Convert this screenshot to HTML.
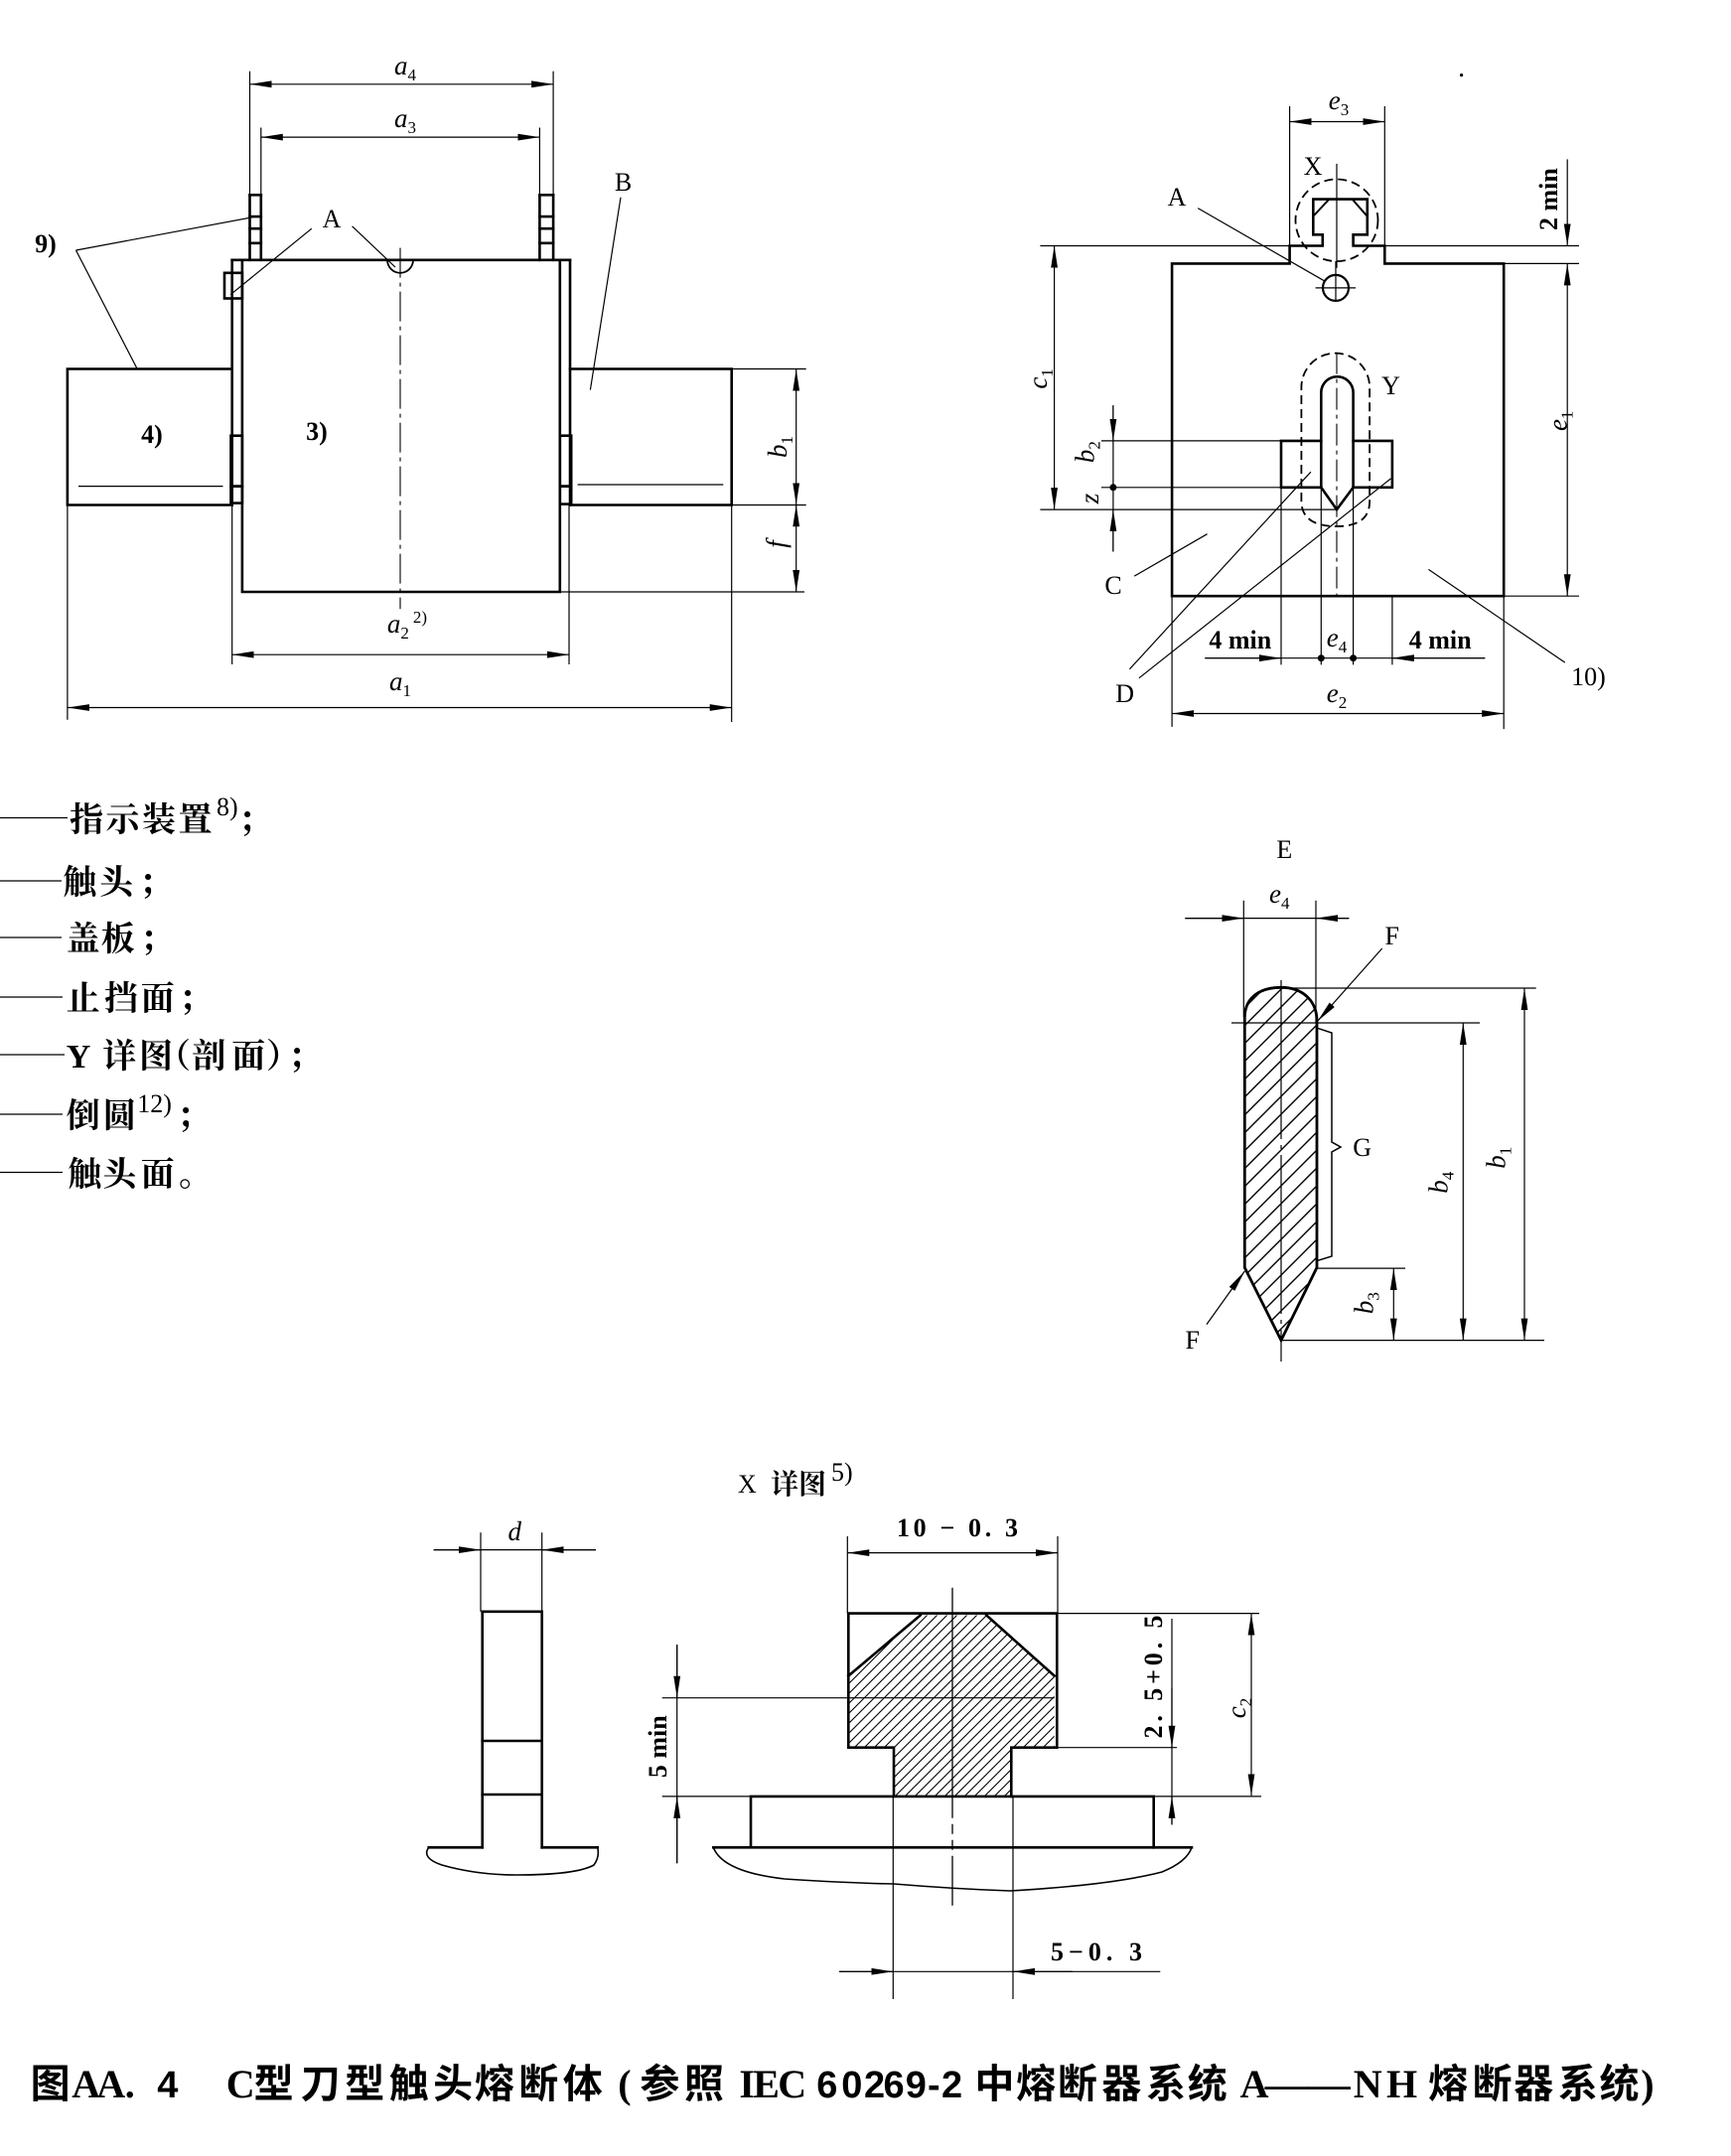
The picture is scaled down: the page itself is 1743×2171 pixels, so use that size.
<!DOCTYPE html>
<html><head><meta charset="utf-8"><style>
html,body{margin:0;padding:0;background:#fff}
svg{display:block}
.k{stroke:#000;stroke-width:2.6;fill:none;stroke-linecap:square}
.t{stroke:#000;stroke-width:1.2;fill:none}
.cl{stroke:#000;stroke-width:1.1;fill:none;stroke-dasharray:30 5 4 5}
.ds{stroke:#000;stroke-width:1.8;fill:none;stroke-dasharray:9 5}
.lb{font-family:"Liberation Serif",serif;font-size:26px;fill:#000}
.dm{font-family:"Liberation Serif",serif;font-style:italic;font-size:27px;fill:#000}
.sb{font-style:normal;font-size:17px}
.bd{font-family:"Liberation Serif",serif;font-weight:bold;font-size:26px;fill:#000}
.lg{font-family:"Liberation Serif","Noto Serif CJK SC",serif;font-size:34px;font-weight:bold;fill:#000}
.cj{font-family:"Noto Sans CJK SC",sans-serif;font-size:40px;font-weight:bold;fill:#000}
.cs{font-family:"Liberation Serif",serif;font-size:40px;font-weight:bold;fill:#000}
.cn{font-family:"Liberation Sans",sans-serif;font-size:38px;font-weight:bold;fill:#000}
</style></head><body>
<svg width="1743" height="2171" viewBox="0 0 1743 2171" xmlns="http://www.w3.org/2000/svg">
<defs>
<marker id="a" viewBox="-22 -4 22 8" refX="0" refY="0" markerWidth="22" markerHeight="8" markerUnits="userSpaceOnUse" orient="auto-start-reverse"><path d="M0,0 L-22,-3.4 L-22,3.4 Z" fill="#000"/></marker>
<pattern id="h1" width="18" height="18" patternUnits="userSpaceOnUse"><path d="M-2,20 L20,-2 M-2,2 L2,-2 M16,20 L20,16" stroke="#000" stroke-width="1.4"/></pattern>
<pattern id="h2" width="10" height="10" patternUnits="userSpaceOnUse"><path d="M-2,12 L12,-2 M-2,2 L2,-2 M8,12 L12,8" stroke="#000" stroke-width="1.1"/></pattern>
</defs>
<rect width="1743" height="2171" fill="#fff"/>

<!-- ================= TOP-LEFT ================= -->
<g class="t">
<line x1="251.5" y1="71.7" x2="251.5" y2="196.3"/>
<line x1="557.1" y1="71.7" x2="557.1" y2="196.3"/>
<line x1="262.8" y1="128.5" x2="262.8" y2="196.3"/>
<line x1="543.4" y1="128.5" x2="543.4" y2="196.3"/>
<line x1="251.5" y1="84.8" x2="557.1" y2="84.8" marker-start="url(#a)" marker-end="url(#a)"/>
<line x1="262.8" y1="138.1" x2="543.4" y2="138.1" marker-start="url(#a)" marker-end="url(#a)"/>
<line x1="79" y1="489.6" x2="224.5" y2="489.6"/>
<line x1="581.6" y1="488" x2="728.3" y2="488"/>
<line x1="736.7" y1="371.5" x2="811.7" y2="371.5"/>
<line x1="736.7" y1="508.5" x2="811.7" y2="508.5"/>
<line x1="563.8" y1="596" x2="810" y2="596"/>
<line x1="67.9" y1="508.5" x2="67.9" y2="724.7"/>
<line x1="736.7" y1="508.5" x2="736.7" y2="727"/>
<line x1="233.7" y1="508.5" x2="233.7" y2="669"/>
<line x1="573" y1="508.5" x2="573" y2="669"/>
<line x1="233.7" y1="659.2" x2="573" y2="659.2" marker-start="url(#a)" marker-end="url(#a)"/>
<line x1="67.9" y1="712.5" x2="736.7" y2="712.5" marker-start="url(#a)" marker-end="url(#a)"/>
<line x1="801.7" y1="371.7" x2="801.7" y2="508.3" marker-start="url(#a)" marker-end="url(#a)"/>
<line x1="801.7" y1="508.3" x2="801.7" y2="596" marker-start="url(#a)" marker-end="url(#a)"/>
<line x1="313.8" y1="230.2" x2="232.1" y2="296.7"/>
<line x1="354.6" y1="227.8" x2="398" y2="269"/>
<line x1="76.5" y1="252" x2="257.7" y2="218.1"/>
<line x1="76.5" y1="252" x2="137.8" y2="370.8"/>
<line x1="625" y1="198.7" x2="594.4" y2="392.6"/>
</g>
<g class="k">
<path d="M262.8,196.3 V261.8 M251.5,196.3 V261.8 M543.4,196.3 V261.8 M557.1,196.3 V261.8"/>
<path d="M251.5,196.3 H262.8 M251.5,218.1 H262.8 M251.5,230.2 H262.8 M251.5,244.8 H262.8"/>
<path d="M543.4,196.3 H557.1 M543.4,218.1 H557.1 M543.4,230.2 H557.1 M543.4,244.8 H557.1"/>
<path d="M233.7,261.8 H574"/>
<path d="M233.7,261.8 V508.5 M574,261.8 V508.5"/>
<path d="M243.9,261.8 V596 H563.8 V261.8"/>
<rect x="226" y="274.8" width="17.9" height="25.7"/>
<rect x="232.5" y="438.7" width="11.4" height="51"/>
<rect x="232.5" y="489.6" width="11.4" height="17"/>
<rect x="563.8" y="438.7" width="11.4" height="51"/>
<rect x="563.8" y="489.6" width="11.4" height="18"/>
<path d="M233.7,371.5 H67.9 V508.5 H233.7"/>
<path d="M574,371.5 H736.7 V508.5 H574"/>
</g>
<path d="M390,261.8 A13,13 0 0 0 416,261.8" stroke="#000" stroke-width="1.8" fill="none"/>
<line class="cl" x1="403" y1="249.6" x2="403" y2="613.2"/>

<text class="dm" x="408" y="75" text-anchor="middle">a<tspan class="sb" dy="6">4</tspan></text>
<text class="dm" x="408" y="128" text-anchor="middle">a<tspan class="sb" dy="6">3</tspan></text>
<text class="dm" x="410" y="637" text-anchor="middle">a<tspan class="sb" dy="6">2</tspan><tspan class="sb" dx="4" dy="-16">2)</tspan></text>
<text class="dm" x="403" y="695" text-anchor="middle">a<tspan class="sb" dy="6">1</tspan></text>
<text class="dm" transform="translate(783,450) rotate(-90)" x="0" y="9" text-anchor="middle">b<tspan class="sb" dy="6">1</tspan></text>
<text class="dm" transform="translate(781.7,548) rotate(-90)" x="0" y="9" text-anchor="middle">f</text>
<text class="lb" x="334" y="229" text-anchor="middle">A</text>
<text class="bd" x="46" y="254" text-anchor="middle">9)</text>
<text class="lb" x="627.6" y="192" text-anchor="middle">B</text>
<text class="bd" x="153" y="446" text-anchor="middle">4)</text>
<text class="bd" x="319" y="443" text-anchor="middle">3)</text>

<!-- ================= TOP-RIGHT ================= -->
<g class="t">
<line x1="1298.6" y1="106.9" x2="1298.6" y2="247.5"/>
<line x1="1394.3" y1="106.9" x2="1394.3" y2="247.5"/>
<line x1="1298.6" y1="122.5" x2="1394.3" y2="122.5" marker-start="url(#a)" marker-end="url(#a)"/>
<line x1="1047.4" y1="247.5" x2="1298.6" y2="247.5"/>
<line x1="1394.3" y1="247.5" x2="1590" y2="247.5"/>
<line x1="1514.2" y1="265.4" x2="1590" y2="265.4"/>
<line x1="1514.2" y1="600.2" x2="1590" y2="600.2"/>
<line x1="1346" y1="164.9" x2="1346" y2="269.8"/>
<line x1="1324.6" y1="289.9" x2="1365" y2="289.9"/>
<line x1="1345" y1="263" x2="1345" y2="303.3"/>
<line x1="1109" y1="443.9" x2="1290" y2="443.9"/>
<line x1="1109" y1="490.8" x2="1290" y2="490.8"/>
<line x1="1047.4" y1="513.1" x2="1346" y2="513.1"/>
<line x1="1290" y1="490.8" x2="1290" y2="669.4"/>
<line x1="1330.3" y1="490.8" x2="1330.3" y2="669.4"/>
<line x1="1362.6" y1="490.8" x2="1362.6" y2="669.4"/>
<line x1="1401.9" y1="600.2" x2="1401.9" y2="669.4"/>
<line x1="1061.6" y1="247.5" x2="1061.6" y2="513.1" marker-start="url(#a)" marker-end="url(#a)"/>
<line x1="1120.9" y1="408.2" x2="1120.9" y2="555.5"/>
<line x1="1120.9" y1="408.2" x2="1120.9" y2="443.9" marker-end="url(#a)"/>
<line x1="1120.9" y1="555.5" x2="1120.9" y2="513.1" marker-end="url(#a)"/>
<line x1="1578.2" y1="265.4" x2="1578.2" y2="600.2" marker-start="url(#a)" marker-end="url(#a)"/>
<line x1="1578.2" y1="160.4" x2="1578.2" y2="247.5" marker-end="url(#a)"/>
<line x1="1180.1" y1="600.2" x2="1180.1" y2="731.9"/>
<line x1="1514.2" y1="600.2" x2="1514.2" y2="734.1"/>
<line x1="1180.1" y1="718.5" x2="1514.2" y2="718.5" marker-start="url(#a)" marker-end="url(#a)"/>
<line x1="1213.3" y1="662.7" x2="1495.3" y2="662.7"/>
<line x1="1213.3" y1="662.7" x2="1290" y2="662.7" marker-end="url(#a)"/>
<line x1="1495.3" y1="662.7" x2="1401.9" y2="662.7" marker-end="url(#a)"/>
<line x1="1206.2" y1="209.6" x2="1334.1" y2="283.2"/>
<line x1="1142.2" y1="580.1" x2="1215.6" y2="537.7"/>
<line x1="1137.4" y1="673.8" x2="1319.9" y2="475.2"/>
<line x1="1146.9" y1="682.8" x2="1400.5" y2="481.9"/>
<line x1="1575.8" y1="667.1" x2="1438.4" y2="573.4"/>
</g>
<path class="k" d="M1180.1,265.4 H1298.6 V247.5 H1331.8 V236.3 H1322.3 V200.6 H1376.8 V236.3 H1362.6 V247.5 H1394.3 V265.4 H1514.2 V600.2 H1180.1 Z"/>
<path d="M1323,217 L1338,201 M1362,201 L1376,217" stroke="#000" stroke-width="2" fill="none"/>
<circle cx="1345" cy="289.9" r="13" stroke="#000" stroke-width="2.2" fill="none"/>
<ellipse class="ds" cx="1346" cy="221.8" rx="41.5" ry="41.3"/>
<path class="k" d="M1330.3,490.8 V395.4 A16.15,16.15 0 0 1 1362.6,395.4 V490.8 M1330.3,490.8 L1346,513.1 L1362.6,490.8"/>
<path class="k" d="M1330.3,443.9 H1290 V490.8 H1330.3 M1362.6,443.9 H1401.9 V490.8 H1362.6"/>
<path class="ds" d="M1310.4,505 V390 A34.35,34.35 0 0 1 1379.1,390 V505 Q1379,530 1346,530 Q1311,530 1310.4,505"/>
<line x1="1346" y1="354.6" x2="1346" y2="600.2" stroke="#000" stroke-width="1.1" stroke-dasharray="22 5 4 5"/>
<circle cx="1120.9" cy="490.8" r="3.5" fill="#000"/>
<circle cx="1330.3" cy="662.7" r="3.5" fill="#000"/>
<circle cx="1362.6" cy="662.7" r="3.5" fill="#000"/>
<circle cx="1471.6" cy="75.6" r="1.6" fill="#000"/>

<text class="dm" x="1348" y="110" text-anchor="middle">e<tspan class="sb" dy="6">3</tspan></text>
<text class="lb" x="1322" y="176" text-anchor="middle">X</text>
<text class="lb" x="1185" y="207" text-anchor="middle">A</text>
<text class="bd" transform="translate(1559.2,200.6) rotate(-90)" x="0" y="9" text-anchor="middle">2 min</text>
<text class="dm" transform="translate(1045,381.4) rotate(-90)" x="0" y="9" text-anchor="middle">c<tspan class="sb" dy="6">1</tspan></text>
<text class="dm" transform="translate(1568.7,423.8) rotate(-90)" x="0" y="9" text-anchor="middle">e<tspan class="sb" dy="6">1</tspan></text>
<text class="lb" x="1400.5" y="397" text-anchor="middle">Y</text>
<text class="dm" transform="translate(1092.4,455.1) rotate(-90)" x="0" y="9" text-anchor="middle">b<tspan class="sb" dy="6">2</tspan></text>
<text class="dm" transform="translate(1097.2,502) rotate(-90)" x="0" y="9" text-anchor="middle" font-size="22">z</text>
<text class="lb" x="1121" y="598" text-anchor="middle">C</text>
<text class="lb" x="1599.5" y="690" text-anchor="middle">10)</text>
<text class="lb" x="1132.7" y="707" text-anchor="middle">D</text>
<text class="bd" x="1248.8" y="653" text-anchor="middle">4 min</text>
<text class="bd" x="1450.2" y="653" text-anchor="middle">4 min</text>
<text class="dm" x="1346" y="651" text-anchor="middle">e<tspan class="sb" dy="6">4</tspan></text>
<text class="dm" x="1346" y="707" text-anchor="middle">e<tspan class="sb" dy="6">2</tspan></text>

<!-- ================= LEGEND ================= -->
<g class="t" stroke-width="1.5">
<line x1="0" y1="823.5" x2="68" y2="823.5"/>
<line x1="0" y1="887" x2="62" y2="887"/>
<line x1="0" y1="944" x2="62" y2="944"/>
<line x1="0" y1="1004" x2="63" y2="1004"/>
<line x1="0" y1="1062" x2="65" y2="1062"/>
<line x1="0" y1="1122" x2="63" y2="1122"/>
<line x1="0" y1="1180.5" x2="63" y2="1180.5"/>
</g>
<text class="lg" x="70 106.5 143 179.5" y="837">指示装置</text>
<text class="lb" x="218" y="821" font-size="16">8)</text>
<text class="lg" x="240" y="837">；</text>
<text class="lg" x="63.3 100 140" y="900">触头；</text>
<text class="lg" x="66.7 101.7 141" y="957">盖板；</text>
<text class="lg" x="66.7 105 141.7 180" y="1017">止挡面；</text>
<text class="lg" x="66.7" y="1075" font-size="31">Y</text>
<text class="lg" x="103.3 140 158 193.3 233.3 268 290" y="1075">详图（剖面）；</text>
<text class="lg" x="66.7 103.3" y="1135">倒圆</text>
<text class="lb" x="138.3" y="1120" font-size="16">12)</text>
<text class="lg" x="178" y="1135">；</text>
<text class="lg" x="68.3 103.3 141.7 180" y="1194">触头面。</text>

<!-- ================= E DRAWING ================= -->
<g class="t">
<line x1="1252.3" y1="906.8" x2="1252.3" y2="1024"/>
<line x1="1325" y1="906.8" x2="1325" y2="1030"/>
<line x1="1193.3" y1="924.6" x2="1358.3" y2="924.6"/>
<line x1="1193.3" y1="924.6" x2="1252.3" y2="924.6" marker-end="url(#a)"/>
<line x1="1358.3" y1="924.6" x2="1325" y2="924.6" marker-end="url(#a)"/>
<line x1="1240" y1="1030" x2="1490" y2="1030"/>
<line x1="1290" y1="995" x2="1546.7" y2="995"/>
<line x1="1326.7" y1="1277.1" x2="1415" y2="1277.1"/>
<line x1="1290" y1="1349.6" x2="1555" y2="1349.6"/>
<line x1="1473.3" y1="1030" x2="1473.3" y2="1349.6" marker-start="url(#a)" marker-end="url(#a)"/>
<line x1="1535" y1="995" x2="1535" y2="1349.6" marker-start="url(#a)" marker-end="url(#a)"/>
<line x1="1403.3" y1="1277.1" x2="1403.3" y2="1349.6" marker-start="url(#a)" marker-end="url(#a)"/>
<line x1="1391.7" y1="955" x2="1326.7" y2="1028.2" marker-end="url(#a)"/>
<line x1="1215" y1="1333.6" x2="1253.3" y2="1280" marker-end="url(#a)"/>
<path d="M1327,1035.4 L1341,1040 L1341,1150 L1350,1155 L1341,1160 L1341,1265 L1327,1269.3" stroke-width="1.5"/>
</g>
<path d="M1253.3,1276.4 V1024.6 C1253.3,1005 1268,994.3 1290,994.3 C1312,994.3 1326,1008 1326,1028 V1276.4 L1290,1349.6 Z" fill="url(#h1)" stroke="#000" stroke-width="2.8"/>
<line x1="1290" y1="987" x2="1290" y2="1371" stroke="#000" stroke-width="1.2" stroke-dasharray="160 6 4 6"/>
<text class="lb" x="1293.3" y="864" text-anchor="middle" font-size="27">E</text>
<text class="dm" x="1288.3" y="909" text-anchor="middle">e<tspan class="sb" dy="6">4</tspan></text>
<text class="lb" x="1401.7" y="951" text-anchor="middle">F</text>
<text class="lb" x="1371.7" y="1164" text-anchor="middle">G</text>
<text class="lb" x="1200.7" y="1358" text-anchor="middle">F</text>
<text class="dm" transform="translate(1448.3,1190.7) rotate(-90)" x="0" y="9" text-anchor="middle">b<tspan class="sb" dy="6">4</tspan></text>
<text class="dm" transform="translate(1506.7,1165.7) rotate(-90)" x="0" y="9" text-anchor="middle">b<tspan class="sb" dy="6">1</tspan></text>
<text class="dm" transform="translate(1373.3,1312.1) rotate(-90)" x="0" y="9" text-anchor="middle">b<tspan class="sb" dy="6">3</tspan></text>

<!-- ================= X DETAIL ================= -->
<text class="lb" x="743" y="1503" font-size="28">X</text>
<text x="776" y="1504" font-family="'Noto Serif CJK SC',serif" font-size="28" font-weight="bold">详图</text>
<text class="lb" x="837" y="1491" font-size="17">5)</text>

<!-- side view -->
<g class="t">
<line x1="484" y1="1543.2" x2="484" y2="1622.8"/>
<line x1="545.7" y1="1543.2" x2="545.7" y2="1622.8"/>
<line x1="436.7" y1="1560.6" x2="600" y2="1560.6"/>
<line x1="436.7" y1="1560.6" x2="484" y2="1560.6" marker-end="url(#a)"/>
<line x1="600" y1="1560.6" x2="545.7" y2="1560.6" marker-end="url(#a)"/>
</g>
<g class="k">
<path d="M485.7,1622.8 V1860.3 M545.7,1622.8 V1860.3"/>
<path d="M485.7,1622.8 H545.7 M485.7,1753 H545.7 M485.7,1807 H545.7"/>
<path d="M431.7,1860.3 H485.7 M545.7,1860.3 H601.7"/>
</g>
<path d="M431.7,1860.3 Q424,1871 445,1878 Q480,1888 520,1888 Q580,1888 598,1878 Q604,1870 601.7,1860.3" stroke="#000" stroke-width="1.6" fill="none"/>
<text class="dm" x="518.3" y="1551" text-anchor="middle">d</text>

<!-- section -->
<g class="t">
<line x1="681.7" y1="1656" x2="681.7" y2="1876.2"/>
<line x1="681.7" y1="1656" x2="681.7" y2="1709.7" marker-end="url(#a)"/>
<line x1="681.7" y1="1876.2" x2="681.7" y2="1808.9" marker-end="url(#a)"/>
<line x1="666.7" y1="1709.7" x2="1061.7" y2="1709.7"/>
<line x1="666.7" y1="1808.9" x2="756" y2="1808.9"/>
<line x1="1161.7" y1="1808.9" x2="1270" y2="1808.9"/>
<line x1="1064.3" y1="1624.6" x2="1268" y2="1624.6"/>
<line x1="1064.3" y1="1759.7" x2="1185" y2="1759.7"/>
<line x1="853.3" y1="1547" x2="853.3" y2="1624.6"/>
<line x1="1065" y1="1547" x2="1065" y2="1624.6"/>
<line x1="853.3" y1="1563.6" x2="1065" y2="1563.6" marker-start="url(#a)" marker-end="url(#a)"/>
<line x1="899.3" y1="1808.9" x2="899.3" y2="2013"/>
<line x1="1020" y1="1808.9" x2="1020" y2="2013"/>
<line x1="845" y1="1985.3" x2="1168.3" y2="1985.3"/>
<line x1="845" y1="1985.3" x2="899.3" y2="1985.3" marker-end="url(#a)"/>
<line x1="1080" y1="1985.3" x2="1020" y2="1985.3" marker-end="url(#a)"/>
<line x1="1180" y1="1630" x2="1180" y2="1837.4"/>
<line x1="1180" y1="1700" x2="1180" y2="1759.7" marker-end="url(#a)"/>
<line x1="1180" y1="1837.4" x2="1180" y2="1808.9" marker-end="url(#a)"/>
<line x1="1260" y1="1624.6" x2="1260" y2="1808.3" marker-start="url(#a)" marker-end="url(#a)"/>
</g>
<path d="M854.3,1687.5 L926.7,1626.5 H993.3 L1061.7,1687.5 V1759.7 H1018.3 V1808.9 H900 V1759.7 H854.3 Z" fill="url(#h2)" stroke="none"/>
<g class="k">
<path d="M854.3,1624.6 H1064.3 V1759.7 H1018.3 V1808.9 M854.3,1624.6 V1759.7 H900 V1808.9"/>
<path d="M854.3,1687.5 L926.7,1626.5 M993.3,1626.5 L1061.7,1687.5"/>
<path d="M756,1808.9 H1161.7 V1860.3 H718.3 M756,1808.9 V1860.3"/>
<path d="M1161.7,1860.3 H1200"/>
</g>
<path d="M718.3,1860.3 Q728,1885 790,1892 Q850,1896 900,1897 Q960,1902 1017,1904 Q1120,1898 1170,1885 Q1195,1875 1200,1860.3" stroke="#000" stroke-width="1.6" fill="none"/>
<line x1="959" y1="1598.7" x2="959" y2="1918.8" stroke="#000" stroke-width="1.3" stroke-dasharray="232 6 10 6 10 6"/>

<text class="bd" x="964" y="1547" text-anchor="middle" font-size="30" textLength="122" lengthAdjust="spacing">10 − 0. 3</text>
<text class="bd" x="1058" y="1974" font-size="29" textLength="92" lengthAdjust="spacing">5−0. 3</text>
<text class="bd" transform="translate(661,1758.7) rotate(-90)" x="0" y="10" text-anchor="middle" font-size="28">5 min</text>
<text class="bd" transform="translate(1160,1688.5) rotate(-90)" x="0" y="10" text-anchor="middle" font-size="28" textLength="124" lengthAdjust="spacing">2. 5+0. 5</text>
<text class="dm" transform="translate(1245,1720) rotate(-90)" x="0" y="9" text-anchor="middle">c<tspan class="sb" dy="6">2</tspan></text>

<!-- ================= CAPTION ================= -->
<text class="cj" x="30.6" y="2112">图</text>
<text class="cs" x="72.2 97.2 125.8" y="2112">AA.</text>
<text class="cn" x="158.3" y="2112">4</text>
<text class="cs" x="227.8" y="2112">C</text>
<text class="cj" x="255.6 302.8 347.2 391.7 436.1 477.8 522.2 566.7" y="2112">型刀型触头熔断体</text>
<text class="cs" x="622.2" y="2112">(</text>
<text class="cj" x="644.4 688.9" y="2112">参照</text>
<text class="cs" x="744.4 758.3 783.3" y="2112">IEC</text>
<text class="cn" x="822.2 847.2 870 889.5 911.8 934 948" y="2112">60269-2</text>
<text class="cj" x="981.4 1023 1064.9 1109.4 1154 1195.7" y="2112">中熔断器系统</text>
<text class="cs" x="1248.6" y="2112">A</text>
<text class="cs" x="1273.7" y="2112" textLength="86" lengthAdjust="spacingAndGlyphs">——</text>
<text class="cs" x="1362.8 1396" y="2112">NH</text>
<text class="cj" x="1438 1482.5 1524.2 1568.8 1610.5" y="2112">熔断器系统</text>
<text class="cs" x="1652.3" y="2112">)</text>
</svg>
</body></html>
